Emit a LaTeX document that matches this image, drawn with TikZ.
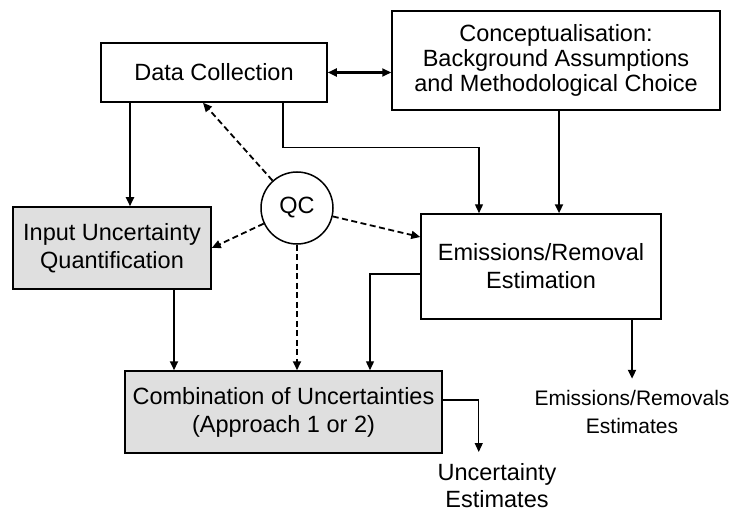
\documentclass[tikz,border=0pt]{standalone}
\usepackage{fontspec}
\setmainfont{Liberation Sans}
\usetikzlibrary{arrows.meta,calc}
\begin{document}
\begin{tikzpicture}[x=1pt,y=-1pt,
  box/.style={draw,line width=1.5pt,inner sep=0pt,align=center,font=\fontsize{23.5}{28}\selectfont},
  graybox/.style={box,fill=gray!25},
  lbl/.style={inner sep=0pt,align=center},
  tip/.style={-{Triangle[length=9pt,width=8pt]}},
  arr/.style={line width=2.2pt,tip},
  thinarr/.style={line width=1.3pt,tip},
  darr/.style={line width=1.8pt,dash pattern=on 6pt off 3.5pt,tip}]
\useasboundingbox (0,0) rectangle (733,513);
\node[box,minimum width=226pt,minimum height=59pt] (data) at (214,72.5) {Data Collection};
\node[box,minimum width=328pt,minimum height=99pt,font=\fontsize{23.5}{25}\selectfont] (concept) at (556,60.5) {Conceptualisation:\\Background Assumptions\\and Methodological Choice};
\node[graybox,minimum width=198pt,minimum height=82pt] (input) at (112,248) {Input Uncertainty\\Quantification};
\node[box,minimum width=240pt,minimum height=105pt] (emis) at (541,266.5) {Emissions/Removal\\Estimation};
\node[graybox,minimum width=317pt,minimum height=82pt] (comb) at (283.5,412) {Combination of Uncertainties\\(Approach 1 or 2)};
\node[draw,circle,line width=1.5pt,minimum size=72pt,inner sep=0pt,font=\fontsize{23.5}{28}\selectfont] (qc) at (297,208) {QC};
\node[lbl,font=\fontsize{21}{28}\selectfont] (ere) at (632,412) {Emissions/Removals\\Estimates};
\node[lbl,font=\fontsize{23.5}{27}\selectfont] (ue) at (497,486) {Uncertainty\\Estimates};
% connectors
\draw[line width=2.2pt,{Triangle[length=9pt,width=8pt]}-{Triangle[length=9pt,width=8pt]}] (data.east) -- (data.east -| concept.west);
\draw[arr] ([xshift=-84pt]data.south) -- ([xshift=-84pt]data.south |- input.north);
\draw[thinarr] ([xshift=69pt]data.south) -- ++(0,45) -| ([xshift=-62pt]emis.north);
\draw[arr] ([xshift=3pt]concept.south) -- ([xshift=3pt]concept.south |- emis.north);
\draw[arr] ([xshift=62pt]input.south) -- ([xshift=62pt]input.south |- comb.north);
\draw[thinarr] ([yshift=-7.5pt]emis.west) -| ([xshift=86.5pt]comb.north);
\draw[arr] ([xshift=91pt]emis.south) -- ++(0,59);
\draw[thinarr] ([yshift=12pt]comb.east) -| ++(36,52);
\draw[darr] (qc) -- ([xshift=-11pt]data.south);
\draw[darr] (qc) -- (input.east);
\draw[darr] (qc) -- ([yshift=29.5pt]emis.west);
\draw[darr] (qc) -- (qc |- comb.north);
\end{tikzpicture}
\end{document}
